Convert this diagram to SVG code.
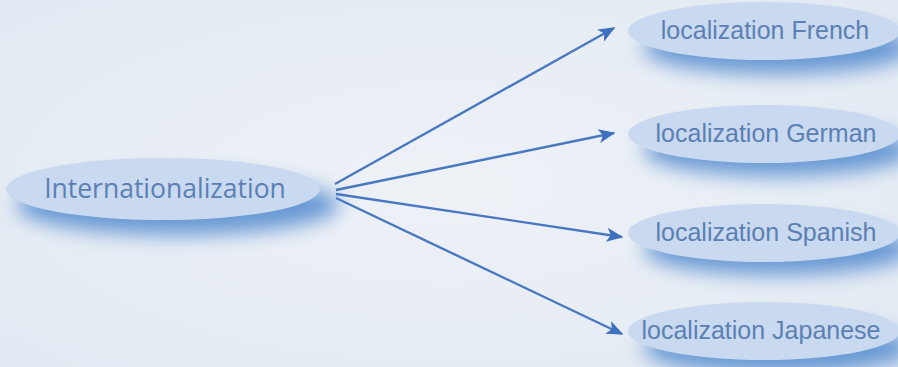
<svg xmlns="http://www.w3.org/2000/svg" width="898" height="367" viewBox="0 0 898 367">
<defs>
<filter id="blur" x="-30%" y="-80%" width="160%" height="260%"><feGaussianBlur stdDeviation="10"/></filter>
<radialGradient id="bg" cx="50%" cy="50%" r="75%"><stop offset="0" stop-color="#eef2f7"/><stop offset="1" stop-color="#e2e9f2"/></radialGradient>
<marker id="ah" viewBox="0 0 12 10" refX="11" refY="5" markerWidth="18" markerHeight="14" markerUnits="userSpaceOnUse" orient="auto"><path d="M0,0 L12,5 L0,10 L3,5 Z" fill="#3f6fbd"/></marker>
</defs>
<style>
.sh{fill:#5a8fd0;opacity:0.9;filter:url(#blur)}
.el{fill:#c9d9ef}
.t{font-family:"Liberation Sans",Arial,sans-serif;fill:#5b80b4;font-size:25px;text-anchor:middle;dominant-baseline:central}
.tl{font-family:"Open Sans","DejaVu Sans",sans-serif;font-size:26.5px}
.c{stroke:#4a78c0;stroke-width:2.4;fill:none;marker-end:url(#ah)}
</style>
<rect width="898" height="367" fill="url(#bg)"/>
<g id="intl">
<ellipse class="sh" cx="178" cy="205" rx="162" ry="30"/>
<ellipse class="el" cx="163" cy="189" rx="157" ry="31"/>
<text class="t tl" x="165" y="188">Internationalization</text>
</g>
<g id="french">
<ellipse class="sh" cx="778" cy="48" rx="135" ry="26"/>
<ellipse class="el" cx="764" cy="31" rx="136" ry="29"/>
<text class="t" x="765" y="30">localization French</text>
</g>
<g id="german">
<ellipse class="sh" cx="778" cy="150" rx="135" ry="26"/>
<ellipse class="el" cx="764" cy="134" rx="136" ry="29"/>
<text class="t" x="766" y="133">localization German</text>
</g>
<g id="spanish">
<ellipse class="sh" cx="778" cy="249" rx="135" ry="26"/>
<ellipse class="el" cx="764" cy="233" rx="136" ry="29"/>
<text class="t" x="766" y="232">localization Spanish</text>
</g>
<g id="japanese">
<ellipse class="sh" cx="778" cy="348" rx="135" ry="26"/>
<ellipse class="el" cx="764" cy="331" rx="136" ry="29"/>
<text class="t" x="761" y="330">localization Japanese</text>
</g>
<g id="connectors">
<path class="c" d="M335,184 L614,28"/>
<path class="c" d="M336,190 L614,133"/>
<path class="c" d="M336,194 L622,237"/>
<path class="c" d="M336,198 L622,334"/>
</g>
</svg>
